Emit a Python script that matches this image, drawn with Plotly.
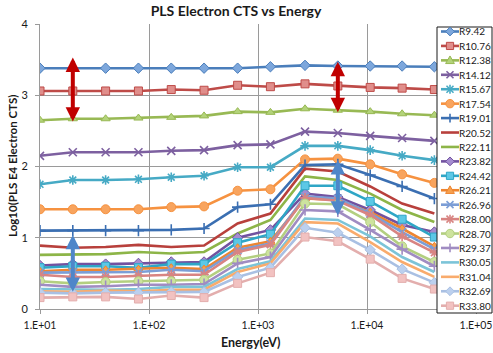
import math
import plotly.graph_objects as go

# ---------------- data ----------------
energy_ev = [10, 20, 40, 80, 160, 320, 650, 1300, 2700, 5400, 10700, 21000, 41500]

R9_42 = [3.38, 3.38, 3.38, 3.38, 3.38, 3.38, 3.38, 3.40, 3.42, 3.41, 3.41, 3.41, 3.40]
R10_76 = [3.06, 3.06, 3.06, 3.06, 3.08, 3.07, 3.14, 3.12, 3.16, 3.13, 3.11, 3.10, 3.08]
R12_38 = [2.65, 2.67, 2.67, 2.68, 2.69, 2.71, 2.77, 2.76, 2.81, 2.79, 2.77, 2.74, 2.72]
R14_12 = [2.15, 2.20, 2.20, 2.20, 2.22, 2.23, 2.30, 2.31, 2.49, 2.47, 2.43, 2.40, 2.36]
R15_67 = [1.75, 1.81, 1.81, 1.82, 1.85, 1.87, 1.99, 1.99, 2.29, 2.29, 2.23, 2.15, 2.09]
R17_54 = [1.40, 1.40, 1.40, 1.40, 1.43, 1.44, 1.66, 1.68, 2.10, 2.11, 2.03, 1.89, 1.77]
R19_01 = [1.10, 1.10, 1.10, 1.10, 1.11, 1.13, 1.43, 1.47, 2.02, 2.03, 1.88, 1.72, 1.55]
R20_52 = [0.89, 0.86, 0.87, 0.90, 0.87, 0.89, 1.20, 1.34, 1.97, 1.93, 1.72, 1.48, 1.34]
R22_11 = [0.76, 0.76, 0.77, 0.80, 0.78, 0.80, 1.06, 1.25, 1.86, 1.81, 1.62, 1.39, 1.22]
R23_82 = [0.61, 0.63, 0.63, 0.64, 0.66, 0.66, 1.00, 1.11, 1.62, 1.57, 1.39, 1.18, 1.08]
R24_42 = [0.58, 0.60, 0.60, 0.58, 0.63, 0.63, 0.93, 1.05, 1.73, 1.73, 1.51, 1.26, 1.01]
R26_21 = [0.53, 0.55, 0.55, 0.56, 0.58, 0.56, 0.86, 0.95, 1.55, 1.53, 1.36, 1.13, 0.88]
R26_96 = [0.51, 0.51, 0.51, 0.52, 0.55, 0.53, 0.83, 0.92, 1.58, 1.55, 1.34, 1.08, 0.84]
R28_00 = [0.48, 0.45, 0.45, 0.47, 0.48, 0.48, 0.80, 0.90, 1.56, 1.52, 1.32, 1.02, 0.79]
R28_70 = [0.39, 0.36, 0.38, 0.39, 0.39, 0.41, 0.69, 0.78, 1.48, 1.47, 1.22, 0.88, 0.66]
R29_37 = [0.34, 0.31, 0.32, 0.34, 0.34, 0.35, 0.64, 0.73, 1.39, 1.37, 1.11, 0.84, 0.60]
R30_05 = [0.28, 0.27, 0.27, 0.28, 0.31, 0.31, 0.56, 0.67, 1.27, 1.25, 1.02, 0.73, 0.52]
R31_04 = [0.25, 0.24, 0.26, 0.25, 0.27, 0.27, 0.52, 0.64, 1.22, 1.20, 0.94, 0.66, 0.45]
R32_69 = [0.23, 0.22, 0.23, 0.23, 0.24, 0.24, 0.45, 0.58, 1.14, 1.07, 0.83, 0.56, 0.37]
R33_80 = [0.16, 0.17, 0.17, 0.14, 0.19, 0.16, 0.36, 0.51, 1.01, 0.95, 0.70, 0.43, 0.28]

series_names = ["R9.42", "R10.76", "R12.38", "R14.12", "R15.67", "R17.54", "R19.01",
                "R20.52", "R22.11", "R23.82", "R24.42", "R26.21", "R26.96", "R28.00",
                "R28.70", "R29.37", "R30.05", "R31.04", "R32.69", "R33.80"]
series_values = [R9_42, R10_76, R12_38, R14_12, R15_67, R17_54, R19_01, R20_52, R22_11,
                 R23_82, R24_42, R26_21, R26_96, R28_00, R28_70, R29_37, R30_05, R31_04,
                 R32_69, R33_80]

x_tick_values = [10, 100, 1000, 10000, 100000]
x_tick_labels = ["1.E+01", "1.E+02", "1.E+03", "1.E+04", "1.E+05"]
y_tick_values = [0, 1, 2, 3, 4]

# double-headed arrows: (energy, low value, high value)
red_arrows = [(20, 2.61, 3.53), (5400, 2.74, 3.47)]
blue_arrows = [(20, 0.22, 1.04), (5400, 1.29, 2.09)]

# ---------------- styles ----------------
line_colors = ["#4A7EBB", "#BE4B48", "#98B954", "#7D60A0", "#46AAC5", "#F69240",
               "#3B6FB2", "#B8403C", "#8DB548", "#7252A0", "#2FA6C6", "#EE8530",
               "#7C9ED6", "#D88482", "#B3CF80", "#A08CC2", "#7CC4D8", "#F9AB6C",
               "#A9C0E3", "#E3AEAD"]
fill_colors = ["#7DA7DC", "#E08E8B", "#B3D37A", "#9C86BF", "#46AAC5", "#F8A45E",
               "#3B6FB2", "#B8403C", "#8DB548", "#A58DD0", "#5CC8E6", "#F6A04E",
               "#7C9ED6", "#D88482", "#CDE39E", "#A08CC2", "#7CC4D8", "#F9AB6C",
               "#BCD0EE", "#F2C2C1"]
symbols = ["diamond", "square", "triangle-up", "x-thin-open", "asterisk-open", "circle",
           "cross-thin-open", None, None,
           "diamond", "square", "triangle-up", "x-thin-open", "asterisk-open", "circle",
           "cross-thin-open", None, None, "diamond", "square"]
sizes = {"diamond": 8, "square": 8, "triangle-up": 8, "x-thin-open": 8,
         "asterisk-open": 8, "circle": 9, "cross-thin-open": 8}

FONT = "Lato"
W, H = 493, 353
ML, MR, MT, MB = 40, 0, 24, 40
PW, PH = W - ML - MR, H - MT - MB


def px(xp):
    return (xp - ML) / PW


def py(yp):
    return (H - MB - yp) / PH


def marker_for(i):
    s = symbols[i]
    if s is None:
        return None
    if s.endswith("open"):
        return dict(symbol=s, size=sizes[s], color=line_colors[i],
                    line=dict(color=line_colors[i], width=1.6))
    return dict(symbol=s, size=sizes[s], color=fill_colors[i],
                line=dict(color=line_colors[i], width=1))


fig = go.Figure()

for i, (name, vals) in enumerate(zip(series_names, series_values)):
    mk = marker_for(i)
    fig.add_trace(go.Scatter(
        x=energy_ev, y=vals, name=name,
        mode="lines+markers" if mk else "lines",
        line=dict(color=line_colors[i], width=2.6),
        marker=mk, showlegend=False))

# ----- custom legend drawn on top of the plot (box, key lines, key glyphs, text) -----
leg_left, leg_right, leg_top, leg_bottom = 437, 492, 27, 313
row0, row_last = 31.5, 305.7
row_step = (row_last - row0) / (len(series_names) - 1)
key_x0, key_x1, key_cx, text_x = 441, 459, 450, 458

shapes = [dict(type="rect", xref="paper", yref="paper", layer="above",
               x0=px(leg_left), x1=px(leg_right), y0=py(leg_bottom), y1=py(leg_top),
               fillcolor="white", line=dict(color="#1a1a1a", width=1))]


def poly(points, fill, line, width=1, closed=True):
    d = "M " + " L ".join(f"{px(a):.5f},{py(b):.5f}" for a, b in points)
    if closed:
        d += " Z"
    return dict(type="path", xref="paper", yref="paper", layer="above", path=d,
                fillcolor=fill if closed else None, line=dict(color=line, width=width))


annotations = []
for i, name in enumerate(series_names):
    cy = row0 + row_step * i
    col, fc = line_colors[i], fill_colors[i]
    shapes.append(dict(type="line", xref="paper", yref="paper", layer="above",
                       x0=px(key_x0), x1=px(key_x1), y0=py(cy), y1=py(cy),
                       line=dict(color=col, width=2.6)))
    s = symbols[i]
    c = key_cx
    if s == "diamond":
        r = 4.4
        shapes.append(poly([(c - r, cy), (c, cy - r), (c + r, cy), (c, cy + r)], fc, col))
    elif s == "square":
        r = 3.6
        shapes.append(poly([(c - r, cy - r), (c + r, cy - r), (c + r, cy + r), (c - r, cy + r)], fc, col))
    elif s == "triangle-up":
        shapes.append(poly([(c, cy - 4.4), (c + 4.4, cy + 3.2), (c - 4.4, cy + 3.2)], fc, col))
    elif s == "circle":
        r = 4.2
        shapes.append(dict(type="circle", xref="paper", yref="paper", layer="above",
                           x0=px(c - r), x1=px(c + r), y0=py(cy + r), y1=py(cy - r),
                           fillcolor=fc, line=dict(color=col, width=1)))
    elif s in ("x-thin-open", "asterisk-open"):
        r = 3.5
        shapes.append(poly([(c - r, cy - r), (c + r, cy + r)], None, col, 1.6, False))
        shapes.append(poly([(c - r, cy + r), (c + r, cy - r)], None, col, 1.6, False))
        if s == "asterisk-open":
            shapes.append(poly([(c, cy - 4.4), (c, cy + 4.4)], None, col, 1.6, False))
    elif s == "cross-thin-open":
        shapes.append(poly([(c, cy - 4.4), (c, cy + 4.4)], None, col, 1.6, False))
    annotations.append(dict(
        x=px(text_x), y=py(cy), xref="paper", yref="paper", text=name, showarrow=False,
        xanchor="left", yanchor="middle", borderpad=0,
        font=dict(family=FONT, size=10, color="#1a1a1a")))

for (e, lo, hi), col in [(a, "#C00000") for a in red_arrows] + [(a, "#4F86C9") for a in blue_arrows]:
    lx = math.log10(e)
    annotations.append(dict(
        x=lx, y=hi, ax=lx, ay=lo, xref="x", yref="y", axref="x", ayref="y",
        text="", showarrow=True, arrowhead=2, startarrowhead=2, arrowside="end+start",
        arrowwidth=4, arrowsize=0.72, startarrowsize=0.72, arrowcolor=col))

# axis titles
annotations.append(dict(
    x=px(251), y=py(342), xref="paper", yref="paper",
    text="<b>Energy(eV)</b>", showarrow=False, xanchor="center", yanchor="middle",
    font=dict(family=FONT, size=12.5, color="#1a1a1a")))
annotations.append(dict(
    x=px(12), y=py(166), xref="paper", yref="paper",
    text="<b>Log10(PLS E4 Electron CTS)</b>", showarrow=False, textangle=-90,
    xanchor="center", yanchor="middle",
    font=dict(family=FONT, size=11.5, color="#1a1a1a")))

grid = "#9A9A9A"
fig.update_layout(
    template="none",
    width=W, height=H,
    margin=dict(l=ML, r=MR, t=MT, b=MB, pad=0, autoexpand=False),
    paper_bgcolor="white", plot_bgcolor="white",
    font=dict(family=FONT, size=11, color="#1a1a1a"),
    title=dict(text="<b>PLS Electron CTS vs Energy</b>", x=236 / W, xanchor="center",
               xref="container", yref="container",
               y=1 - 11 / H, yanchor="middle",
               font=dict(family=FONT, size=14, color="#1a1a1a")),
    xaxis=dict(type="log", range=[1, 5], domain=[0, px(476)],
               tickvals=x_tick_values, ticktext=x_tick_labels,
               showgrid=True, gridcolor=grid, gridwidth=1,
               showline=True, linecolor=grid, linewidth=1,
               ticks="outside", ticklen=4, tickcolor=grid, ticklabelstandoff=2,
               tickfont=dict(family=FONT, size=10.5, color="#1a1a1a"),
               zeroline=False, automargin=False),
    yaxis=dict(range=[0, 4], domain=[py(309), 1], tickvals=y_tick_values,
               showgrid=True, gridcolor=grid, gridwidth=1,
               showline=True, linecolor=grid, linewidth=1,
               ticks="outside", ticklen=4, tickcolor=grid, ticklabelstandoff=5,
               tickfont=dict(family=FONT, size=11, color="#1a1a1a"),
               zeroline=False, automargin=False),
    shapes=shapes,
    annotations=annotations,
    showlegend=False,
)

fig.write_html("out.html", config={"displayModeBar": False, "staticPlot": True},
               post_script="document.body.style.margin='0';document.body.style.padding='0';")
